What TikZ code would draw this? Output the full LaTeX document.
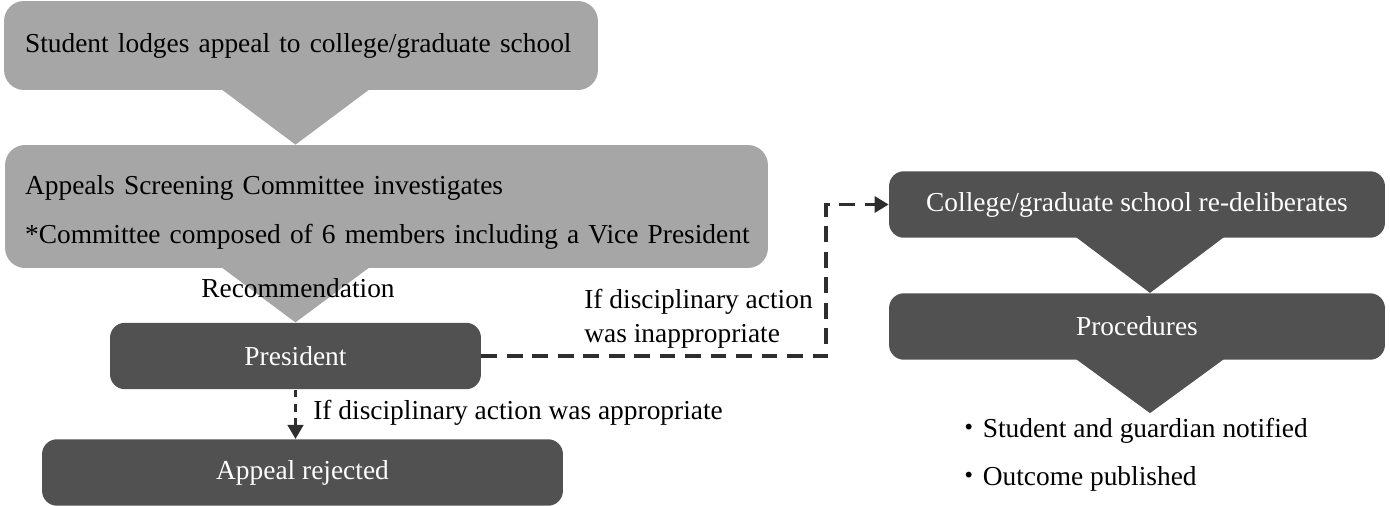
\documentclass[tikz,border=0pt]{standalone}
\usepackage{fontspec}
\setmainfont{Liberation Serif}
\newfontfamily\cjk{Noto Sans CJK JP}
\usetikzlibrary{arrows.meta,calc}
\definecolor{lightbox}{HTML}{A6A6A6}
\definecolor{darkbox}{HTML}{515151}
\definecolor{dashline}{HTML}{2E2E2E}
\begin{document}
\begin{tikzpicture}[
    x=0.02cm,y=-0.02cm,
    font=\fontsize{15.6}{19.8}\selectfont,
    lbox/.style={fill=lightbox,rounded corners=0.4cm,align=left,inner xsep=0.42cm},
    dbox/.style={fill=darkbox,text=white,rounded corners=0.3cm,minimum height=1.33cm,align=center},
    note/.style={align=left,anchor=base west,inner sep=0pt},
    flow/.style={draw=dashline,line width=2pt,dash pattern=on 9pt off 5.5pt},
    flowthin/.style={draw=dashline,line width=1.4pt,dash pattern=on 4.5pt off 3.5pt},
    >={Triangle[length=8pt,width=9pt]}
]
\useasboundingbox (0,0) rectangle (1390,506);

% left column
\node[lbox,text width=11.04cm,minimum height=1.78cm] (lodge) at (301,45.5) {\mbox{Student lodges appeal to college/graduate school}};
\node[lbox,text width=14.46cm,minimum height=2.46cm,inner xsep=0.4cm,font=\fontsize{15.6}{27.8}\selectfont] (panel) at (386.5,206.5) {\rule{0pt}{17.5pt}\mbox{Appeals Screening Committee investigates}\\\mbox{*Committee composed of 6 members including a Vice President}};
\node[dbox,minimum width=7.42cm] (chair) at (295.5,356) {President};
\node[dbox,minimum width=10.42cm] (reject) at (302.5,472.5) {Appeal rejected};

% right column
\node[dbox,minimum width=9.92cm] (redo) at (1137,204.5) {College/graduate school re-deliberates};
\node[dbox,minimum width=9.92cm] (proc) at (1137,326.5) {Procedures};

% wedges between the steps
\fill[lightbox] ($(lodge.south -| chair)+(-74,-1)$) -- ($(lodge.south -| chair)+(74,-1)$) -- (chair.north |- panel.north) -- cycle;
\fill[lightbox] ($(panel.south -| chair)+(-74,-1)$) -- ($(panel.south -| chair)+(74,-1)$) -- (chair.north) -- cycle;
\fill[darkbox] ($(redo.south)+(-61,-1)$) -- ($(redo.south)+(87,-1)$) -- ($(proc.north)+(13,0)$) -- cycle;
\fill[darkbox] ($(proc.south)+(-61,-1)$) -- ($(proc.south)+(87,-1)$) -- ($(proc.south)+(13,53)$) -- cycle;

\node[anchor=base,inner sep=0pt] (recommend) at (298,298) {Recommendation};

% outcomes
\coordinate (turn) at (826,356);
\draw[flow,->] (chair.east) -- (turn) |- (redo.west);
\draw[flowthin,->] (chair.south) -- (chair.south |- reject.north);
\node[note] (wrong) at (584,343) {If disciplinary action\\was inappropriate};
\node[note] (right) at (313,420) {If disciplinary action was appropriate};

\node[note] (notified) at (955,438) {{\cjk ・}Student and guardian notified};
\node[note] (published) at (955,485) {{\cjk ・}Outcome published};
\end{tikzpicture}
\end{document}
